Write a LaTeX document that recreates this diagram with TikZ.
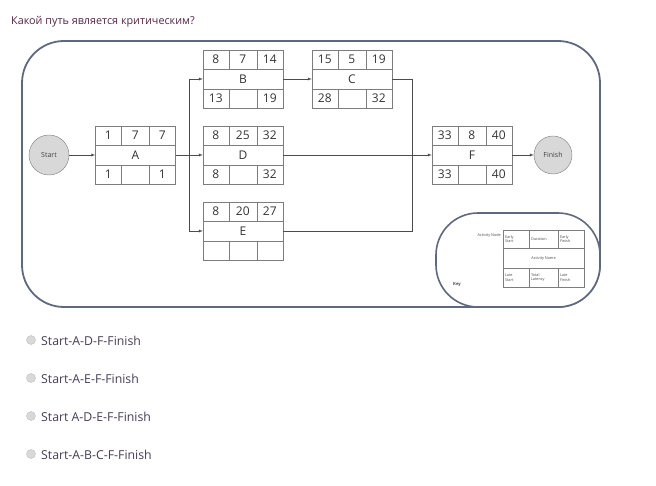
\documentclass[tikz,border=0pt]{standalone}
\usepackage{fontspec}
\setmainfont{Open Sans}
\usepackage{tikz}
\usetikzlibrary{calc}
\usetikzlibrary{arrows}
\usetikzlibrary{positioning}
\usepackage{color}
\definecolor{framegray}{RGB}{95,105,125}
\definecolor{boxgray}{RGB}{125,125,125}
\definecolor{titleplum}{RGB}{85,35,70}
\definecolor{optgray}{RGB}{70,60,85}
\definecolor{circfill}{RGB}{216,216,216}

% activity node: name, position, early start, duration, early finish, label, late start, total latency, late finish
\newcommand{\actbox}[9]{%
  \node[actbox] (#1) at #2 {#6};
  \draw[boxgray] ($(#1.north west)+(0,19)$) -- ($(#1.north east)+(0,19)$);
  \draw[boxgray] ($(#1.south west)+(0,-19)$) -- ($(#1.south east)+(0,-19)$);
  \foreach \cx in {26,54} {
    \draw[boxgray] ($(#1.north west)+(\cx,0)$) -- ($(#1.north west)+(\cx,19)$);
    \draw[boxgray] ($(#1.south west)+(\cx,0)$) -- ($(#1.south west)+(\cx,-19)$);
  }
  \node[cellnum] at ($(#1.north west)+(13,9.5)$) {#3};
  \node[cellnum] at ($(#1.north west)+(40,9.5)$) {#4};
  \node[cellnum] at ($(#1.north west)+(67,9.5)$) {#5};
  \node[cellnum] at ($(#1.south west)+(13,-9.5)$) {#7};
  \node[cellnum] at ($(#1.south west)+(40,-9.5)$) {#8};
  \node[cellnum] at ($(#1.south west)+(67,-9.5)$) {#9};
}

\begin{document}
\begin{tikzpicture}[x=1pt, y=-1pt,
    actbox/.style={draw=boxgray, minimum width=80pt, minimum height=58pt, inner sep=0pt,
                   font=\fontsize{12}{12}\selectfont, text=black!80},
    cellnum/.style={font=\fontsize{12}{12}\selectfont, text=black!80, inner sep=0pt},
    terminal/.style={circle, draw=boxgray, fill=circfill, inner sep=0pt,
                     font=\fontsize{7}{7}\selectfont, text=black!75},
    conn/.style={draw=black!70, ->, >=latex},
    link/.style={draw=black!70},
    keytext/.style={font=\fontsize{3.8}{4.4}\selectfont, text=black!70, align=left, inner sep=0pt},
    radio/.style={circle, draw=black!25, fill=black!15, minimum size=9pt, inner sep=0pt},
    choice/.style={anchor=west, font=\fontsize{12.3}{13}\selectfont, text=optgray, inner sep=0pt}]
  \useasboundingbox (0,0) rectangle (656,486);

  \node[anchor=west, inner sep=0pt, text=titleplum, font=\fontsize{10.8}{11}\selectfont] (question) at (11,22) {Какой путь является критическим?};

  % outer frame
  \draw[framegray, line width=1.8pt, rounded corners=42pt] (22,41) rectangle (600,307);

  % activity nodes
  \node[terminal, minimum size=40pt] (start) at (49,155) {Start};
  \actbox{A}{(135.5,155)}{1}{7}{7}{A}{1}{}{1}
  \actbox{B}{(243,79)}{8}{7}{14}{B}{13}{}{19}
  \actbox{C}{(352,79)}{15}{5}{19}{C}{28}{}{32}
  \actbox{D}{(243,155)}{8}{25}{32}{D}{8}{}{32}
  \actbox{E}{(243,231)}{8}{20}{27}{E}{}{}{}
  \actbox{F}{(472,155)}{33}{8}{40}{F}{33}{}{40}
  \node[terminal, minimum size=38pt] (finish) at (553,155) {Finish};

  % connectors
  \coordinate (fork) at (189,155);
  \coordinate (join) at (412,155);
  \draw[conn] (start) -- (A);
  \draw[conn] (A) -- (D);
  \draw[conn] (fork) |- (B);
  \draw[conn] (fork) |- (E);
  \draw[conn] (B) -- (C);
  \draw[link] (C) -| (join);
  \draw[link] (E) -| (join);
  \draw[conn] (D) -- (F);
  \draw[conn] (F) -- (finish);

  % key
  \filldraw[draw=framegray, fill=white, line width=1.6pt, rounded corners=42pt] (436,213) rectangle (600,307);
  \node[draw=boxgray, thin, minimum width=81pt, minimum height=57pt, inner sep=0pt] (keytab) at (543.5,258.5) {};
  \draw[boxgray, thin] ($(keytab.north west)+(0,18)$) -- ($(keytab.north east)+(0,18)$);
  \draw[boxgray, thin] ($(keytab.south west)+(0,-19)$) -- ($(keytab.south east)+(0,-19)$);
  \foreach \cx in {26,55} {
    \draw[boxgray, thin] ($(keytab.north west)+(\cx,0)$) -- ($(keytab.north west)+(\cx,18)$);
    \draw[boxgray, thin] ($(keytab.south west)+(\cx,0)$) -- ($(keytab.south west)+(\cx,-19)$);
  }
  \node[keytext, anchor=west] at ($(keytab.north west)+(2,9)$) {Early\\Start};
  \node[keytext, anchor=west] at ($(keytab.north west)+(28,9)$) {Duration};
  \node[keytext, anchor=west] at ($(keytab.north west)+(57,9)$) {Early\\Finish};
  \node[keytext] at (keytab) {Activity Name};
  \node[keytext, anchor=west] at ($(keytab.south west)+(2,-9.5)$) {Late\\Start};
  \node[keytext, anchor=west] at ($(keytab.south west)+(28,-9.5)$) {Total\\Latency};
  \node[keytext, anchor=west] at ($(keytab.south west)+(57,-9.5)$) {Late\\Finish};
  \node[keytext, anchor=east] (keynode) at (501,236) {Activity Node};
  \node[keytext, font=\fontsize{4.2}{4.2}\bfseries] (keylabel) at (457,285) {Key};

  % answer choices
  \foreach \ypos/\txt [count=\i] in {341/Start-A-D-F-Finish, 379/Start-A-E-F-Finish,
                                   417/Start A-D-E-F-Finish, 455/Start-A-B-C-F-Finish} {
    \node[radio] (radio\i) at (31,\ypos-1) {};
    \node[choice] (choice\i) at (41,\ypos) {\txt};
  }
\end{tikzpicture}
\end{document}
